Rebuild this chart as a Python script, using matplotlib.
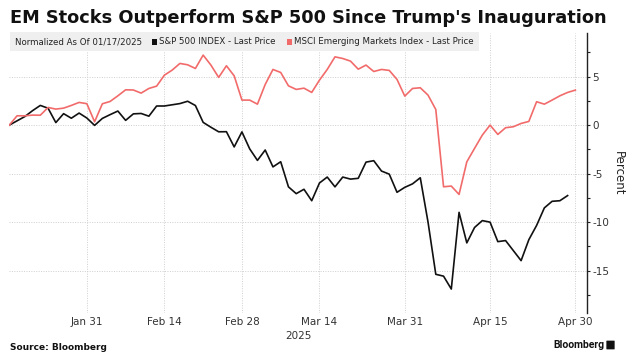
import numpy as np
import pandas as pd
import matplotlib
matplotlib.use("Agg")
import matplotlib.pyplot as plt
from matplotlib.patches import Rectangle, FancyBboxPatch

plt.rcParams['axes.unicode_minus'] = False

# weekdays from the normalization date (Jan 17) to Apr 30
dates = pd.bdate_range("2025-01-17", "2025-04-30")

# % change since 01/17/2025, NaN where the US market was closed / no print yet
spx = [0.00, np.nan, 0.88, 1.49, 2.03, 1.74, 0.26, 1.18, 0.71, 1.24,
       0.73, -0.03, 0.69, 1.08, 1.45, 0.49, 1.16, 1.20, 0.92, 1.97,
       1.97, np.nan, 2.22, 2.46, 2.02, 0.28, -0.22, -0.69, -0.68, -2.25,
       -0.70, -2.45, -3.64, -2.57, -4.31, -3.78, -6.37, -7.07, -6.62, -7.80,
       -5.97, -5.36, -6.37, -5.36, -5.57, -5.49, -3.82, -3.67, -4.74, -5.06,
       -6.93, -6.42, -6.06, -5.43, -10.01, -15.39, -15.58, -16.91, -9.00, -12.15,
       -10.56, -9.85, -10.01, -12.02, -11.91, np.nan, -13.98, -11.82, -10.35, -8.54,
       -7.86, -7.80, -7.27, np.nan]

msci_em = [0.00, 0.96, 0.96, 1.03, 1.02, 1.82, 1.65, 1.75, 2.03, 2.34,
           2.21, 0.34, 2.20, 2.44, 3.02, 3.64, 3.62, 3.30, 3.78, 4.02,
           5.15, 5.67, 6.36, 6.22, 5.84, 7.22, 6.19, 4.92, 6.12, 5.08,
           2.58, 2.58, 2.16, 4.19, 5.74, 5.43, 4.05, 3.68, 3.81, 3.37,
           4.64, 5.74, 7.04, 6.87, 6.60, 5.77, 6.19, 5.53, 5.74, 5.64,
           4.71, 2.99, 3.78, 3.85, 3.09, 1.61, -6.36, -6.29, -7.15, -3.79,
           -2.40, -1.03, 0.00, -0.96, -0.27, -0.17, 0.17, 0.38, 2.41, 2.16,
           2.58, 3.02, 3.37, 3.61]

tick_dates = ["2025-01-31", "2025-02-14", "2025-02-28", "2025-03-14",
              "2025-03-31", "2025-04-15", "2025-04-30"]
tick_labels = ["Jan 31", "Feb 14", "Feb 28", "Mar 14", "Mar 31", "Apr 15", "Apr 30"]

BLACK = "#111111"
RED = "#f26b6b"
W, H = 636, 359


def px(x, y):
    return x / W, 1 - y / H


fig = plt.figure(figsize=(W / 100, H / 100), dpi=100)
ax = fig.add_axes([9.3 / W, 1 - 312.7 / H, (587 - 9.3) / W, (312.7 - 33) / H])

x = np.arange(len(dates))
s = pd.Series(spx, index=x).dropna()
ax.plot(s.index, s.values, color=BLACK, lw=1.2, zorder=3)
ax.plot(x, msci_em, color=RED, lw=1.2, zorder=3)

ax.set_xlim(0, 74.5)
ax.set_ylim(-19.35, 9.5)

ax.set_xticks([dates.get_loc(pd.Timestamp(d)) for d in tick_dates])
ax.set_xticklabels(tick_labels)
ax.set_yticks([-15, -10, -5, 0, 5])
ax.set_yticks([-17.5, -12.5, -7.5, -2.5, 2.5, 7.5], minor=True)
ax.yaxis.tick_right()
ax.tick_params(axis="x", length=0, pad=3, labelsize=7.5, labelcolor="#333333")
ax.tick_params(axis="y", which="both", direction="out", length=2.5, width=0.8,
               color="#222222", pad=1.5, labelsize=7.5, labelcolor="#333333")

for side in ["left", "top", "bottom"]:
    ax.spines[side].set_visible(False)
ax.spines["right"].set_color("#222222")
ax.spines["right"].set_linewidth(1.0)
ax.grid(True, which="major", linestyle=(0, (1, 1.5)), color="#cfcfcf", lw=0.7)

ax.set_ylabel("Percent", rotation=270, fontsize=8.5, color="#222222", labelpad=11)
ax.yaxis.set_label_position("right")

ax.annotate("2025", xy=(0.5, 0), xycoords="axes fraction", xytext=(0, -17),
            textcoords="offset points", ha="center", va="center",
            fontsize=7.5, color="#333333")

# title
fig.text(*px(10, 18), "EM Stocks Outperform S&P 500 Since Trump's Inauguration",
         fontsize=12.8, fontweight="bold", color="#111111", va="center", ha="left")

# legend strip
x0, y0 = px(10, 51)
fig.patches.append(Rectangle((x0, y0), (479 - 10) / W, 19 / H, transform=fig.transFigure,
                             facecolor="#efefef", edgecolor="none", zorder=1))
fs = 6.2
fig.text(*px(15, 42), "Normalized As Of 01/17/2025", fontsize=fs, color="#222222",
         va="center", zorder=2)
fig.patches.append(Rectangle(px(152, 44.5), 5 / W, 5 / H, transform=fig.transFigure,
                             facecolor=BLACK, edgecolor="none", zorder=2))
fig.text(*px(159, 42), "S&P 500 INDEX - Last Price", fontsize=fs, color="#222222",
         va="center", zorder=2)
fig.patches.append(Rectangle(px(287, 44.5), 5 / W, 5 / H, transform=fig.transFigure,
                             facecolor=RED, edgecolor="none", zorder=2))
fig.text(*px(294, 42), "MSCI Emerging Markets Index - Last Price", fontsize=fs,
         color="#222222", va="center", zorder=2)

# footer
fig.text(*px(10, 347), "Source: Bloomberg", fontsize=6.5, fontweight="bold",
         color="#111111", va="center")
fig.text(*px(604, 345), "Bloomberg", fontsize=7.5, fontweight="bold",
         family=["Roboto", "DejaVu Sans"], color="#111111", va="center", ha="right")
fig.patches.append(FancyBboxPatch(px(607, 349), 7 / W, 8 / H, transform=fig.transFigure,
                                  boxstyle="round,pad=0.001", facecolor="#111111",
                                  edgecolor="none"))

fig.savefig("out.png", dpi=100)
